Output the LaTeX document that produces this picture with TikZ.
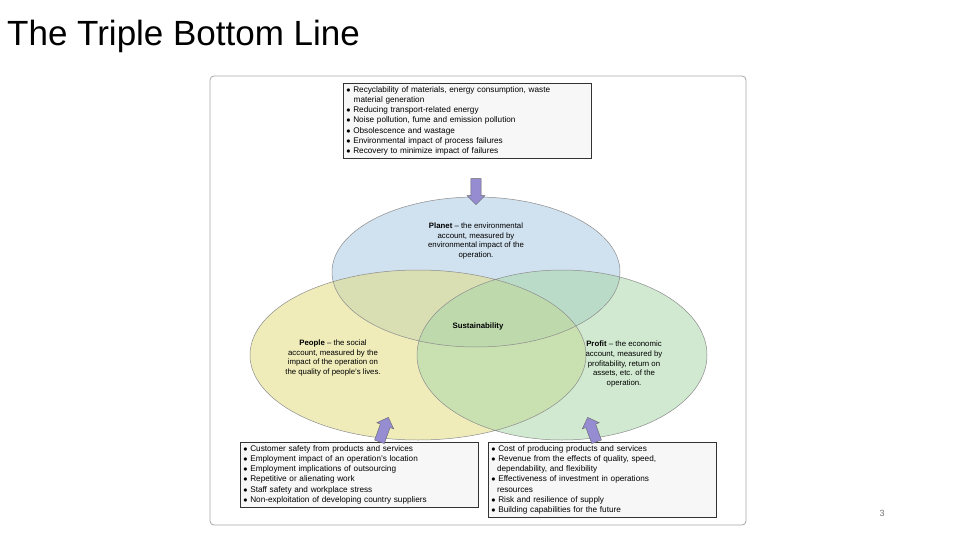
\documentclass[tikz,border=0pt]{standalone}
\usepackage{fontspec}
\setmainfont{Liberation Sans}
\usetikzlibrary{shapes.arrows}
\definecolor{cplan}{RGB}{170,200,225}
\definecolor{cpeop}{RGB}{225,220,130}
\definecolor{cprof}{RGB}{170,215,170}
\definecolor{carr}{RGB}{150,140,210}
\begin{document}
\begin{tikzpicture}[x=1pt,y=-1pt,
 box/.style={draw=black!80,line width=0.6pt,fill=black!3,anchor=north west,inner sep=3pt,font=\fontsize{8.2}{10.2}\selectfont,align=left},
 ell/.style={fill opacity=0.55},
 lbl/.style={font=\fontsize{7.8}{9.8}\selectfont,align=center},
 fat/.style={draw=black!60,fill=carr,line width=0.4pt,single arrow,minimum height=26pt,minimum width=18pt,single arrow head extend=2pt,inner sep=2.5pt}]
\useasboundingbox (0,0) rectangle (960,540);
\node[anchor=west,font=\fontsize{35}{38}\selectfont,inner sep=0pt] (title) at (7,36) {The Triple Bottom Line};
\draw[black!35,rounded corners=4pt,line width=0.8pt] (210,76) rectangle (746,525);
\fill[ell,fill=cplan] (476,272) ellipse [x radius=144,y radius=75];
\fill[ell,fill=cpeop] (418,355) ellipse [x radius=168,y radius=85];
\fill[ell,fill=cprof] (562,355) ellipse [x radius=145,y radius=85];
\draw[black!45,line width=0.5pt] (476,272) ellipse [x radius=144,y radius=75] (418,355) ellipse [x radius=168,y radius=85] (562,355) ellipse [x radius=145,y radius=85];
\node[box,text width=242pt] (top) at (343,83) {$\bullet$ Recyclability of materials, energy consumption, waste\\\hspace*{0.9em}material generation\\$\bullet$ Reducing transport-related energy\\$\bullet$ Noise pollution, fume and emission pollution\\$\bullet$ Obsolescence and wastage\\$\bullet$ Environmental impact of process failures\\$\bullet$ Recovery to minimize impact of failures};
\node[box,text width=232pt] (bl) at (240,442) {$\bullet$ Customer safety from products and services\\$\bullet$ Employment impact of an operation's location\\$\bullet$ Employment implications of outsourcing\\$\bullet$ Repetitive or alienating work\\$\bullet$ Staff safety and workplace stress\\$\bullet$ Non-exploitation of developing country suppliers};
\node[box,text width=222pt] (br) at (488,442) {$\bullet$ Cost of producing products and services\\$\bullet$ Revenue from the effects of quality, speed,\\\hspace*{0.7em}dependability, and flexibility\\$\bullet$ Effectiveness of investment in operations\\\hspace*{0.7em}resources\\$\bullet$ Risk and resilience of supply\\$\bullet$ Building capabilities for the future};
\node[fat,rotate=-90] (a1) at (476,189) {};
\node[fat,rotate=70] (a2) at (383,432) {};
\node[fat,rotate=110] (a3) at (593,432) {};
\node[lbl] (planet) at (476,241) {\textbf{Planet} – the environmental\\account, measured by\\environmental impact of the\\operation.};
\node[lbl] (sus) at (478,326) {\textbf{Sustainability}};
\node[lbl] (people) at (333,358) {\textbf{People} – the social\\account, measured by the\\impact of the operation on\\the quality of people's lives.};
\node[lbl] (profit) at (624,364) {\textbf{Profit} – the economic\\account, measured by\\profitability, return on\\assets, etc. of the\\operation.};
\node[font=\fontsize{9}{10}\selectfont,text=black!55] (pg) at (882,513) {3};
\end{tikzpicture}
\end{document}
